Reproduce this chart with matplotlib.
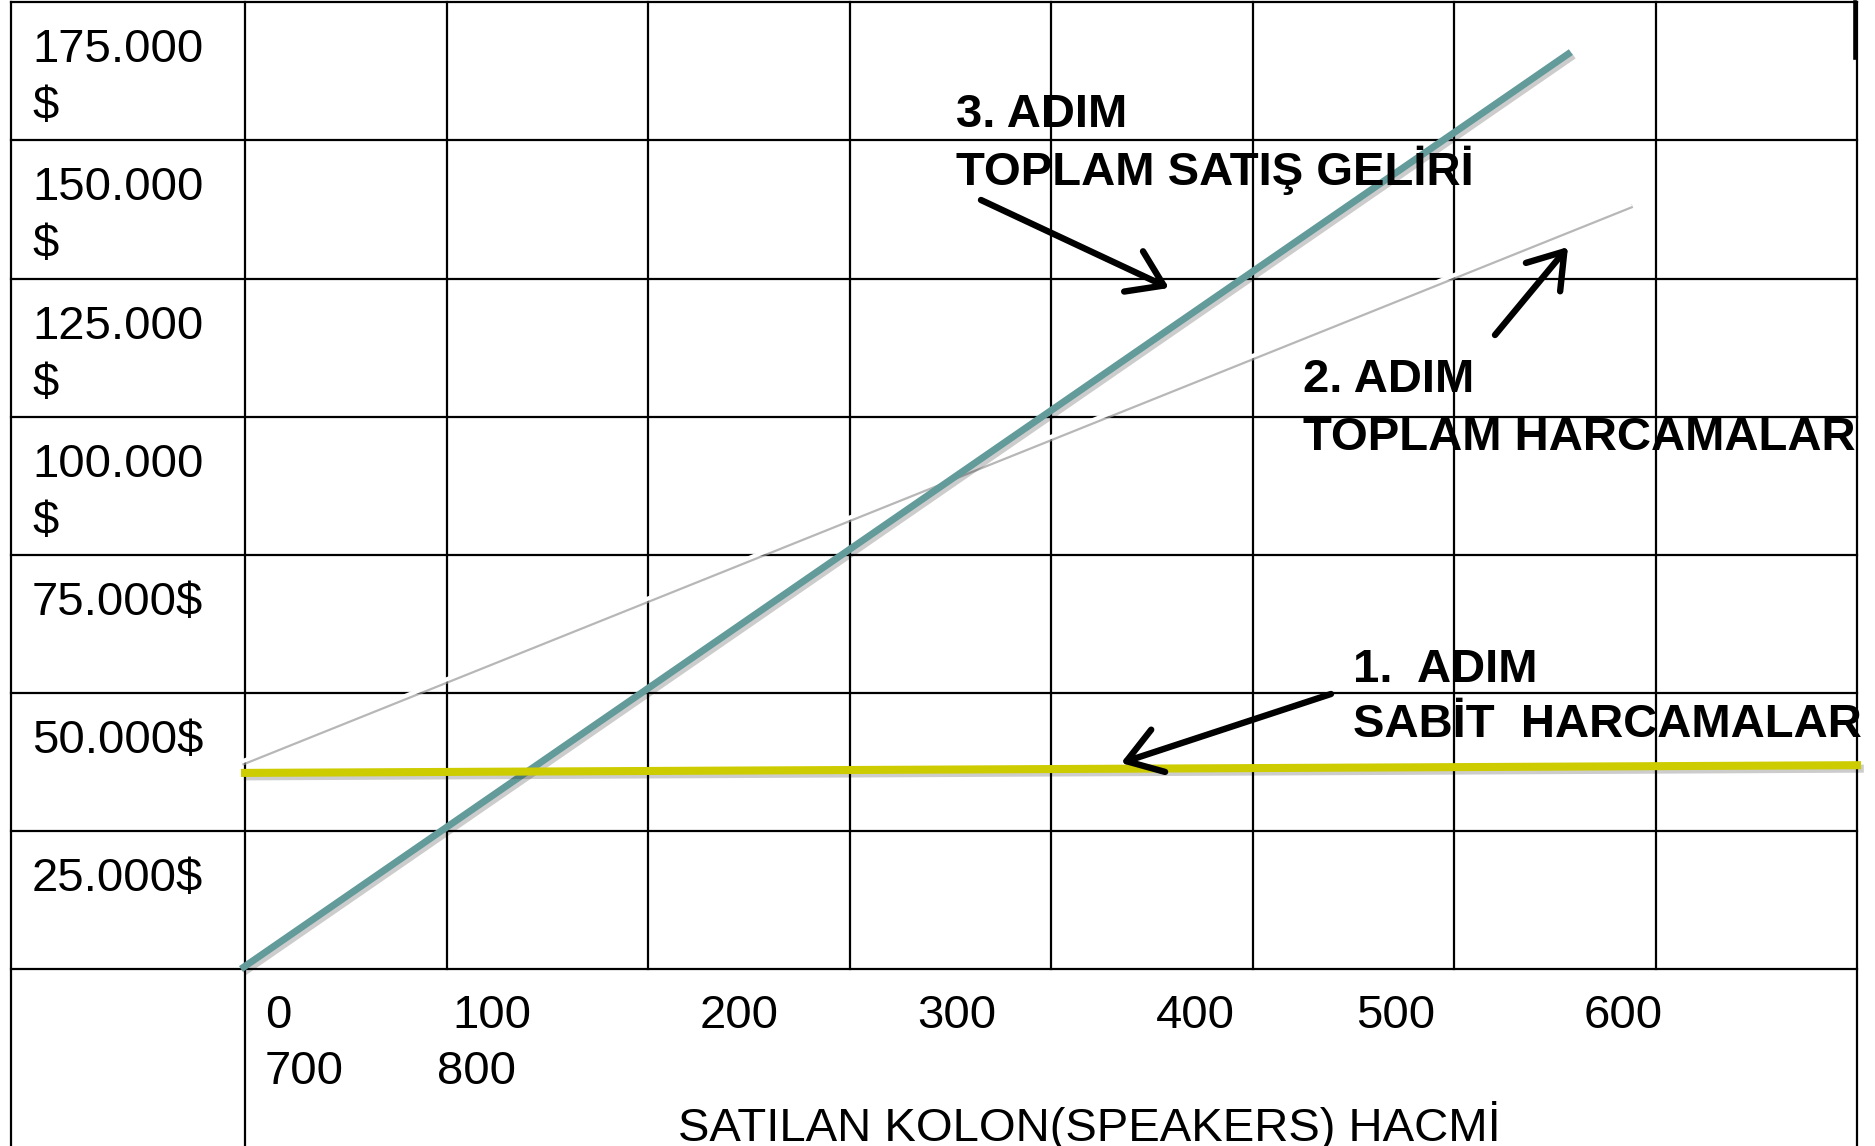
import matplotlib.pyplot as plt
import matplotlib.patheffects as pe

plt.rcParams['font.family'] = ['Liberation Sans', 'DejaVu Sans']

# table structure: 8 columns of 100 units, 7 rows of 25.000 $
unit_step = 100
dollar_step = 25000
n_cols = 8
n_rows = 7

y_labels = ["175.000\n$", "150.000\n$", "125.000\n$", "100.000\n$",
            "75.000$", "50.000$", "25.000$"]
x_labels_1 = ["0", "100", "200", "300", "400", "500", "600"]
x_labels_2 = ["700", "800"]
x_title = "SATILAN KOLON(SPEAKERS) HACMİ"

# lines (units sold -> $)
fixed_units = [-2, 802]
fixed_cost = [35500, 36900]
total_units = [-2, 688]
total_cost = [37500, 138500]
revenue_units = [-2, 658]
revenue = [0, 166000]

notes = ["3. ADIM\nTOPLAM SATIŞ GELİRİ",
         "2. ADIM\nTOPLAM HARCAMALAR",
         "1.  ADIM\nSABİT  HARCAMALAR"]

W, H = 1875, 1146
fig = plt.figure(figsize=(W / 100, H / 100), dpi=100)


def fx(px):
    return px / W


def fy(py):
    return 1 - py / H


# axes covers the data part of the table (pixel box 245..1857 x 2..969)
ax = fig.add_axes([fx(245), fy(969), fx(1857) - fx(245), fy(2.4) - fy(969)])
x_max = n_cols * unit_step
y_max = n_rows * dollar_step
ax.set_xlim(0, x_max)
ax.set_ylim(0, y_max)
ax.axis('off')

# table grid
x_left = -116      # outer left border of label column
y_bottom = -34000  # below figure edge
grid_kw = dict(color='black', lw=1.6, clip_on=False, zorder=1)
for i in range(n_rows + 1):
    yv = i * dollar_step
    ax.plot([x_left, x_max], [yv, yv], **grid_kw)
for i in range(1, n_cols):
    xv = i * unit_step
    ax.plot([xv, xv], [0, y_max], **grid_kw)
for xv in [x_left, 0, x_max]:
    ax.plot([xv, xv], [y_bottom, y_max], **grid_kw)
ax.plot([x_max - 1.2, x_max - 1.2], [y_max, y_max - 10000], color='black',
        lw=2.6, clip_on=False, zorder=1)

# lines
ax.plot(total_units, total_cost, color='white', lw=3, solid_capstyle='butt',
        clip_on=False, zorder=3,
        path_effects=[pe.SimpleLineShadow(offset=(0.8, -1.4), shadow_color='#999999', alpha=0.7),
                      pe.Normal()])
ax.plot(revenue_units, revenue, color='#639a9a', lw=5, solid_capstyle='butt',
        clip_on=False, zorder=4,
        path_effects=[pe.SimpleLineShadow(offset=(2, -2.5), shadow_color='black', alpha=0.2),
                      pe.Normal()])
ax.plot(fixed_units, fixed_cost, color='#cccc00', lw=5.8, solid_capstyle='butt',
        clip_on=False, zorder=5,
        path_effects=[pe.SimpleLineShadow(offset=(2, -2.5), shadow_color='black', alpha=0.2),
                      pe.Normal()])

# y labels inside the first column
fs = 34
for i, lab in enumerate(y_labels):
    top = 2.4 + i * 138.06
    for j, part in enumerate(lab.split("\n")):
        fig.text(fx(32), fy(top + 60 + j * 57), part, fontsize=fs,
                 ha='left', va='baseline')

# x labels
x1_left = [265, 452, 700, 917, 1156, 1356, 1584]
for lab, px in zip(x_labels_1, x1_left):
    fig.text(fx(px), fy(1028), lab, fontsize=fs, ha='left', va='baseline')
x2_left = [265, 437]
for lab, px in zip(x_labels_2, x2_left):
    fig.text(fx(px), fy(1084), lab, fontsize=fs, ha='left', va='baseline')
fig.text(fx(678), fy(1141), x_title, fontsize=fs, ha='left', va='baseline')

# step annotations
note_pos = [(956, 127), (1303, 392), (1353, 682)]
line_gap = [58, 58, 55]
for txt, (px, py), gap in zip(notes, note_pos, line_gap):
    for j, part in enumerate(txt.split("\n")):
        fig.text(fx(px), fy(py + j * gap), part, fontsize=fs, fontweight='bold',
                 ha='left', va='baseline', zorder=6)

arrows = [((981, 200), (1169, 288)),
          ((1495, 335), (1568, 247)),
          ((1331, 694), (1121, 763))]
for (x0, y0), (x1, y1) in arrows:
    ax.annotate('', xy=(x1, H - y1), xytext=(x0, H - y0),
                xycoords='figure pixels', textcoords='figure pixels',
                arrowprops=dict(arrowstyle='->, head_length=0.6, head_width=0.4',
                                mutation_scale=40, lw=4.6, color='black',
                                shrinkA=0, shrinkB=0),
                zorder=7, annotation_clip=False)

fig.savefig('out.png', dpi=100, facecolor='white')
